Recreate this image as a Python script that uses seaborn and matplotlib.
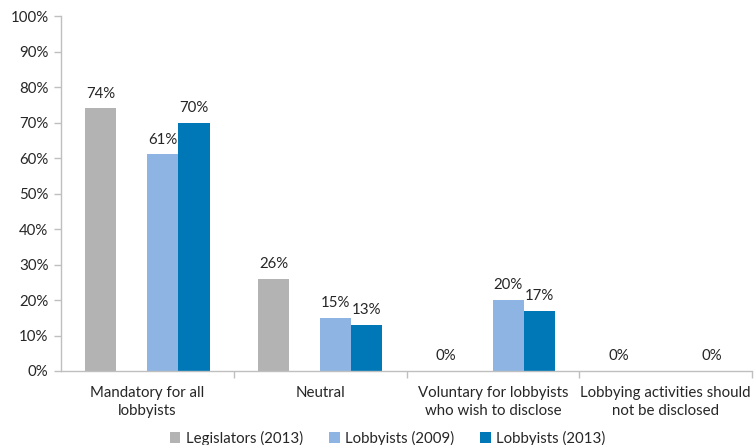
import numpy as np
import pandas as pd
import matplotlib
matplotlib.use("Agg")
import matplotlib.pyplot as plt
import seaborn as sns
from matplotlib.patches import Patch

categories = ["Mandatory for all\nlobbyists", "Neutral",
              "Voluntary for lobbyists\nwho wish to disclose",
              "Lobbying activities should\nnot be disclosed"]
legislators_2013 = [74, 26, 0, 0]
lobbyists_2009 = [61, 15, 20, np.nan]
lobbyists_2013 = [70, 13, 17, 0]
series_names = ["Legislators (2013)", "Lobbyists (2009)", "Lobbyists (2013)"]
colors = ["#B3B3B3", "#8EB4E3", "#0077B6"]
yticks = [0, 10, 20, 30, 40, 50, 60, 70, 80, 90, 100]

# a blank series occupies the second slot in each group (as in the original)
blank = " "
rows = []
for vals, name in [(legislators_2013, series_names[0]),
                   ([np.nan] * 4, blank),
                   (lobbyists_2009, series_names[1]),
                   (lobbyists_2013, series_names[2])]:
    for c, v in zip(categories, vals):
        rows.append({"category": c, "series": name, "value": v})
df = pd.DataFrame(rows)
hue_order = [series_names[0], blank, series_names[1], series_names[2]]
palette = {series_names[0]: colors[0], blank: "white",
           series_names[1]: colors[1], series_names[2]: colors[2]}

sns.set_theme(style="white")
plt.rcParams["font.family"] = ["Lato", "DejaVu Sans"]
FS = 10.8
TXT = "#262626"

fig = plt.figure(figsize=(7.54, 4.45), dpi=100)
ax = fig.add_axes([61 / 754, 1 - 371 / 445, 691 / 754, 355 / 445])

sns.barplot(data=df, x="category", y="value", hue="series", hue_order=hue_order,
            order=categories, palette=palette, width=0.72, ax=ax,
            errorbar=None, legend=False, saturation=1, linewidth=0)

# data labels
n = len(hue_order)
w = 0.72 / n
for s_i, name in enumerate(hue_order):
    if name == blank:
        continue
    sub = df[df.series == name].set_index("category")
    for c_i, c in enumerate(categories):
        v = sub.loc[c, "value"]
        if pd.isna(v):
            continue
        x = c_i - 0.36 + w * (s_i + 0.5)
        ax.annotate(f"{v:.0f}%", (x, v), xytext=(0, 10.5), textcoords="offset points",
                    ha="center", va="center", fontsize=FS, color=TXT)

ax.set_xlim(-0.5, 3.5)
ax.set_ylim(0, 100)
ax.set_yticks(yticks)
ax.set_yticklabels([f"{t}%" for t in yticks], fontsize=FS, color=TXT)
ax.set_xticks(range(4))
ax.set_xticklabels(categories, fontsize=FS, color=TXT, linespacing=1.3)
ax.set_xticks([0.5, 1.5, 2.5, 3.5], minor=True)
ax.tick_params(axis="x", which="major", length=0, pad=11)
ax.tick_params(axis="x", which="minor", length=5, color="#BFBFBF", width=1, bottom=True)
ax.tick_params(axis="y", length=5, color="#BFBFBF", width=1, left=True, pad=4)
ax.set_xlabel("")
ax.set_ylabel("")
for side in ["top", "right"]:
    ax.spines[side].set_visible(False)
for side in ["left", "bottom"]:
    ax.spines[side].set_color("#BFBFBF")
    ax.spines[side].set_linewidth(1)

handles = [Patch(facecolor=c, edgecolor="none") for c in colors]
fig.legend(handles, series_names, loc="center", bbox_to_anchor=(0.514, 1 - 438 / 445),
           ncol=3, frameon=False, fontsize=FS, handlelength=0.7, handleheight=0.7,
           handletextpad=0.35, columnspacing=1.75, labelcolor=TXT)

fig.savefig("out.png", dpi=100)
